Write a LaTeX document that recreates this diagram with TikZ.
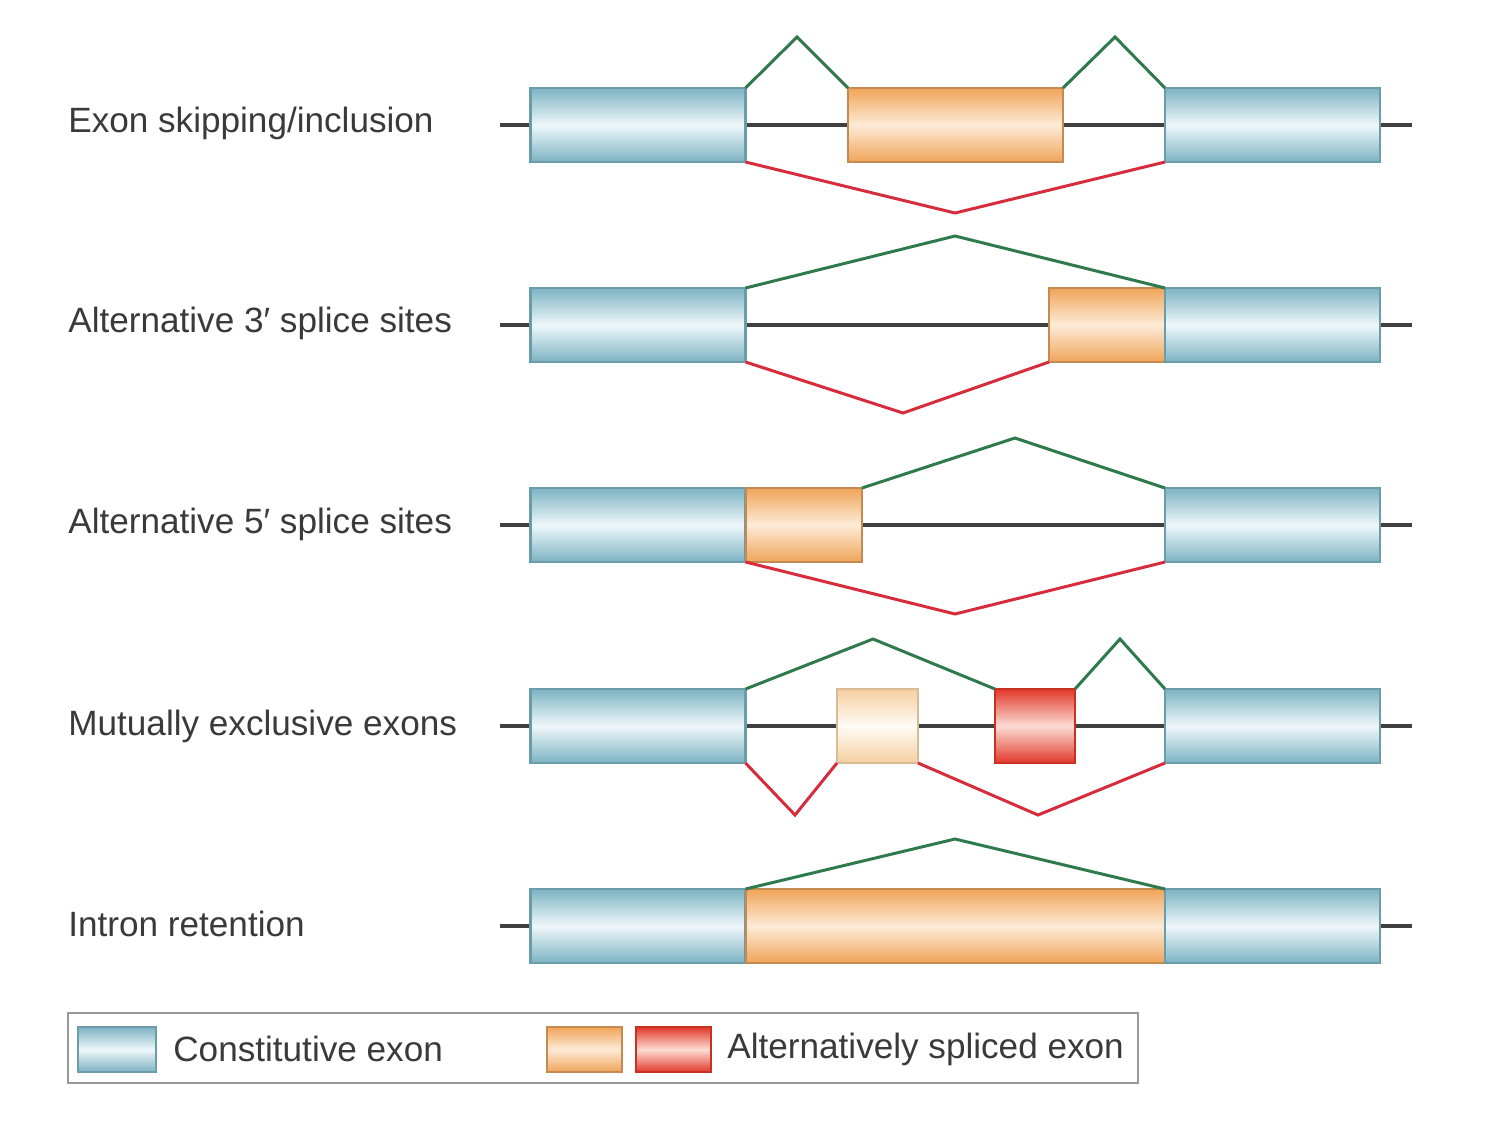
\documentclass[tikz,border=0pt]{standalone}
\usepackage{fontspec}
\setmainfont{Liberation Sans}
\usetikzlibrary{backgrounds}
\definecolor{blueD}{HTML}{7DB3C4}
\definecolor{blueL}{HTML}{EEF7F9}
\definecolor{blueB}{HTML}{6A9CAA}
\definecolor{orD}{HTML}{F0A458}
\definecolor{orL}{HTML}{FDEBD8}
\definecolor{orB}{HTML}{C48A50}
\definecolor{lorD}{HTML}{F6CFA0}
\definecolor{lorL}{HTML}{FFFBF6}
\definecolor{lorB}{HTML}{D8BC98}
\definecolor{rdD}{HTML}{E2382A}
\definecolor{rdL}{HTML}{FCDCD4}
\definecolor{rdB}{HTML}{C83222}
\definecolor{spG}{HTML}{2F7A4C}
\definecolor{spR}{HTML}{D62C3C}
\definecolor{intron}{HTML}{404040}
\definecolor{txt}{HTML}{3A3A3A}
\tikzset{
  exonbox/.style={rectangle, inner sep=0pt, outer sep=0pt, minimum height=1.48cm, line width=1.2pt},
  cexon/.style={exonbox, draw=blueB, top color=blueD, bottom color=blueD, middle color=blueL},
  aexon/.style={exonbox, draw=orB, top color=orD, bottom color=orD, middle color=orL},
  lexon/.style={exonbox, draw=lorB, top color=lorD, bottom color=lorD, middle color=lorL},
  rexon/.style={exonbox, draw=rdB, top color=rdD, bottom color=rdD, middle color=rdL},
  intronline/.style={draw=intron, line width=2.8pt},
  upper/.style={draw=spG, line width=1.7pt, line join=miter},
  lower/.style={draw=spR, line width=1.7pt, line join=miter},
  rowlabel/.style={anchor=west, inner sep=0pt, text=txt, font=\fontsize{20}{24}\selectfont},
}
\begin{document}
\begin{tikzpicture}[x=0.02cm, y=-0.02cm]
\useasboundingbox (0,0) rectangle (1490,1134);
\begin{scope}[on background layer]
\fill[white] (0,0) rectangle (1490,1134);
\end{scope}

% ---------- Row 1: exon skipping
\node[rowlabel] (l1) at (68,123) {Exon skipping/inclusion};
\coordinate (s1) at (500,125);
\coordinate (e1) at (1412,125);
\node[cexon, minimum width=4.3cm] (a1) at (638,125) {};
\node[aexon, minimum width=4.3cm] (m1) at (955.5,125) {};
\node[cexon, minimum width=4.3cm] (b1) at (1272.5,125) {};
\begin{scope}[on background layer]
\draw[intronline] (s1) -- (a1.west);
\draw[intronline] (a1.east) -- (b1.west);
\draw[intronline] (b1.east) -- (e1);
\end{scope}
\coordinate (g1a) at (797,37);
\coordinate (g1b) at (1115,37);
\coordinate (r1) at (955,213);
\draw[upper] (a1.north east) -- (g1a) -- (m1.north west);
\draw[upper] (m1.north east) -- (g1b) -- (b1.north west);
\draw[lower] (a1.south east) -- (r1) -- (b1.south west);

% ---------- Row 2: alternative 3' splice sites
\node[rowlabel] (l2) at (68,323) {Alternative 3′ splice sites};
\coordinate (s2) at (500,325);
\coordinate (e2) at (1412,325);
\node[cexon, minimum width=4.3cm] (a2) at (638,325) {};
\node[aexon, minimum width=2.32cm] (m2) at (1107,325) {};
\node[cexon, minimum width=4.3cm] (b2) at (1272.5,325) {};
\begin{scope}[on background layer]
\draw[intronline] (s2) -- (a2.west);
\draw[intronline] (a2.east) -- (b2.west);
\draw[intronline] (b2.east) -- (e2);
\end{scope}
\coordinate (g2) at (955,236);
\coordinate (r2) at (903,413);
\draw[upper] (a2.north east) -- (g2) -- (b2.north west);
\draw[lower] (a2.south east) -- (r2) -- (m2.south west);

% ---------- Row 3: alternative 5' splice sites
\node[rowlabel] (l3) at (68,524) {Alternative 5′ splice sites};
\coordinate (s3) at (500,525);
\coordinate (e3) at (1412,525);
\node[cexon, minimum width=4.3cm] (a3) at (638,525) {};
\node[aexon, minimum width=2.32cm] (m3) at (804,525) {};
\node[cexon, minimum width=4.3cm] (b3) at (1272.5,525) {};
\begin{scope}[on background layer]
\draw[intronline] (s3) -- (a3.west);
\draw[intronline] (a3.east) -- (b3.west);
\draw[intronline] (b3.east) -- (e3);
\end{scope}
\coordinate (g3) at (1015,438);
\coordinate (r3) at (955,614);
\draw[upper] (m3.north east) -- (g3) -- (b3.north west);
\draw[lower] (a3.south east) -- (r3) -- (b3.south west);

% ---------- Row 4: mutually exclusive exons
\node[rowlabel] (l4) at (68,726) {Mutually exclusive exons};
\coordinate (s4) at (500,726);
\coordinate (e4) at (1412,726);
\node[cexon, minimum width=4.3cm] (a4) at (638,726) {};
\node[lexon, minimum width=1.62cm] (m4) at (877.5,726) {};
\node[rexon, minimum width=1.6cm] (n4) at (1035,726) {};
\node[cexon, minimum width=4.3cm] (b4) at (1272.5,726) {};
\begin{scope}[on background layer]
\draw[intronline] (s4) -- (a4.west);
\draw[intronline] (a4.east) -- (b4.west);
\draw[intronline] (b4.east) -- (e4);
\end{scope}
\coordinate (g4a) at (873,639);
\coordinate (g4b) at (1120,639);
\coordinate (r4a) at (795,815);
\coordinate (r4b) at (1038,815);
\draw[upper] (a4.north east) -- (g4a) -- (n4.north west);
\draw[upper] (n4.north east) -- (g4b) -- (b4.north west);
\draw[lower] (a4.south east) -- (r4a) -- (m4.south west);
\draw[lower] (m4.south east) -- (r4b) -- (b4.south west);

% ---------- Row 5: intron retention
\node[rowlabel] (l5) at (68,924) {Intron retention};
\coordinate (s5) at (500,926);
\coordinate (e5) at (1412,926);
\node[cexon, minimum width=4.3cm] (a5) at (638,926) {};
\node[aexon, minimum width=8.38cm] (m5) at (955.5,926) {};
\node[cexon, minimum width=4.3cm] (b5) at (1272.5,926) {};
\begin{scope}[on background layer]
\draw[intronline] (s5) -- (a5.west);
\draw[intronline] (b5.east) -- (e5);
\end{scope}
\coordinate (g5) at (955,839);
\draw[upper] (a5.north east) -- (g5) -- (b5.north west);

% ---------- Legend
\node[draw=black!40, line width=1pt, rectangle, inner sep=0pt, minimum width=21.4cm, minimum height=1.4cm] (legend) at (603,1048) {};
\node[cexon, minimum width=1.56cm, minimum height=0.9cm] (k1) at (117,1049.5) {};
\node[rowlabel] (t1) at (173,1049) {Constitutive exon};
\node[aexon, minimum width=1.5cm, minimum height=0.9cm] (k2) at (584.5,1049.5) {};
\node[rexon, minimum width=1.5cm, minimum height=0.9cm] (k3) at (673.5,1049.5) {};
\node[rowlabel] (t2) at (727,1049) {Alternatively spliced exon};
\end{tikzpicture}
\end{document}
